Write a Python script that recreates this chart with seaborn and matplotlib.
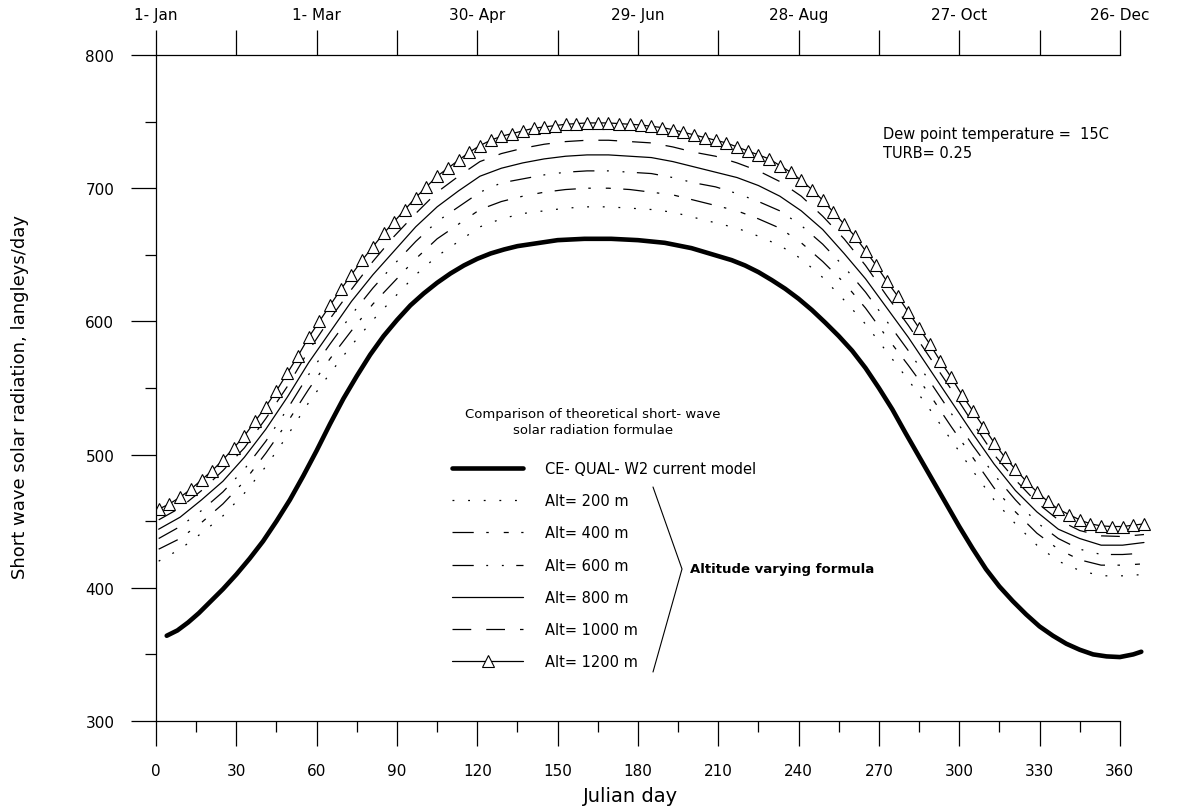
import numpy as np
import pandas as pd
import matplotlib
matplotlib.use("Agg")
import matplotlib.pyplot as plt
import seaborn as sns
from matplotlib.lines import Line2D
from matplotlib.ticker import MultipleLocator

# Julian day grids for the curves
days_fine = np.arange(1, 370, 4)      # 1200 m curve (one triangle per point)
days_alt = np.arange(1, 370, 8)       # other altitude curves
days_cequal = [4, 8, 12, 16, 20, 25, 30, 35, 40, 45, 50, 55, 60, 65, 70, 75, 80,
               85, 90, 95, 100, 105, 110, 115, 120, 125, 130, 135, 140, 145, 150,
               155, 160, 165, 170, 175, 180, 185, 190, 195, 200, 205, 210, 215,
               220, 225, 230, 235, 240, 245, 250, 255, 260, 265, 270, 275, 280,
               285, 290, 295, 300, 305, 310, 315, 320, 325, 330, 335, 340, 345,
               350, 355, 360, 365, 368]

cequal = [364, 368, 374, 381, 389, 399, 410, 422, 435, 450, 466, 484, 503, 523,
          542, 559, 575, 589, 601, 612, 621, 629, 636, 642, 647, 651, 654, 656.5,
          658, 659.5, 661, 661.5, 662, 662, 662, 661.5, 661, 660, 659, 657, 655,
          652, 649, 646, 642, 637, 631, 624.5, 617, 608.5, 599, 589, 578, 565,
          550, 534, 516, 498.5, 481, 463.5, 446, 429.5, 414, 401, 390, 380, 371,
          364, 358, 353.5, 350, 348.5, 348, 350, 352]

alt1200 = [
    459, 463, 468, 474, 481, 488, 496, 505, 514, 525,
    536, 548, 561, 574, 588, 600, 612, 624, 635, 646,
    656, 666, 675, 684, 693, 701, 709, 715, 721, 727,
    732, 736, 739, 741, 743, 745, 746, 747, 748, 748.5,
    749, 749, 749, 748.5, 748, 747.5, 746.5, 745.5, 744, 742,
    740, 738, 736, 734, 731, 728, 725, 722, 717, 712,
    706, 699, 691, 682, 673, 664, 653, 642, 630, 619,
    607, 595, 583, 570, 558, 545, 533, 521, 509, 498,
    489, 480, 472, 465, 459, 455, 451, 448, 446.5, 446,
    446, 447, 448]

alt1000 = [451, 460, 473, 488, 505, 527, 551, 578, 602, 624, 645, 664, 681, 697,
           709, 720, 726, 730, 733, 735, 736, 736, 735, 734, 731, 727, 724, 719,
           713, 705, 694, 679, 662, 642, 619, 597, 573, 549, 524, 500, 481, 464,
           451, 443, 439, 438.5, 440]
alt800 = [444, 453, 466, 480, 498, 519, 543, 569, 592, 615, 635, 653, 671, 686,
          698, 709, 715, 719, 722, 724, 725, 725, 724, 723, 720, 716, 712, 708,
          702, 694, 683, 669, 651, 632, 610, 588, 564, 540, 516, 493, 473, 457,
          444, 437, 432, 432, 434]
alt600 = [437, 446, 458, 472, 489, 510, 534, 560, 583, 605, 625, 643, 660, 675,
          686, 697, 704, 707, 710, 712, 713, 713, 712, 711, 708, 704, 701, 696,
          690, 683, 672, 658, 641, 622, 600, 578, 555, 531, 507, 485, 466, 449,
          437, 429, 425, 425, 426]
alt400 = [429, 437, 449, 463, 480, 501, 524, 549, 572, 593, 613, 630, 647, 662,
          673, 684, 690, 694, 697, 699, 700, 700, 699, 697, 695, 691, 687, 683,
          677, 670, 659, 645, 629, 610, 588, 567, 545, 521, 498, 475, 457, 441,
          429, 421, 417, 417, 418]
alt200 = [420, 429, 441, 454, 471, 491, 514, 539, 561, 582, 601, 618, 635, 649,
          660, 671, 677, 681, 683, 685, 686, 686, 685, 684, 682, 678, 674, 670,
          664, 657, 647, 633, 616, 598, 577, 556, 534, 511, 488, 466, 448, 432,
          420, 413, 409, 409, 410]

top_ticks = [0, 60, 120, 180, 240, 300, 360]
top_labels = ["1- Jan", "1- Mar", "30- Apr", "29- Jun", "28- Aug", "27- Oct", "26- Dec"]

W, H = 1180, 812


def fx(px):
    return px / W


def fy(py):
    return 1 - py / H


sns.set_style("ticks")
plt.rcParams["font.family"] = ["DejaVu Sans"]
for key in ("text.color", "axes.labelcolor", "xtick.color", "ytick.color",
            "axes.edgecolor"):
    plt.rcParams[key] = "black"

fig = plt.figure(figsize=(W / 100, H / 100), dpi=100)
ax = fig.add_axes([fx(156), fy(722), fx(1152) - fx(156), fy(56) - fy(722)])

sns.lineplot(x=days_cequal, y=cequal, color="black", lw=3.3,
             label="CE- QUAL- W2 current model", ax=ax)
styles = [
    ("Alt= 200 m", alt200, (0, (1.5, 11))),
    ("Alt= 400 m", alt400, (0, (17, 10, 2, 12, 4, 10))),
    ("Alt= 600 m", alt600, (0, (17, 10, 1.5, 11, 1.5, 10))),
    ("Alt= 800 m", alt800, "-"),
    ("Alt= 1000 m", alt1000, (0, (15, 12))),
]
for label, vals, ls in styles:
    sns.lineplot(x=days_alt, y=vals, color="black", lw=0.9, linestyle=ls,
                 label=label, ax=ax)
sns.lineplot(x=days_fine, y=alt1200, color="black", lw=0.9, marker="^",
             markersize=8, markerfacecolor="white", markeredgecolor="black",
             markeredgewidth=0.8, label="Alt= 1200 m", ax=ax)

ax.set_xlim(0, 372)
ax.set_ylim(300, 800)
ax.set_xticks(range(0, 361, 30))
ax.xaxis.set_minor_locator(MultipleLocator(15))
ax.yaxis.set_major_locator(MultipleLocator(100))
ax.yaxis.set_minor_locator(MultipleLocator(50))
ax.tick_params(axis="both", which="major", direction="out", length=18, width=0.9,
               labelsize=11, color="black")
ax.tick_params(axis="both", which="minor", direction="out", length=8, width=0.9)
ax.tick_params(axis="x", which="major", pad=12)
ax.tick_params(axis="y", which="major", pad=12)
ax.spines["right"].set_visible(False)
ax.spines["top"].set_visible(False)
ax.spines["bottom"].set_bounds(0, 360)
for s in ("left", "bottom"):
    ax.spines[s].set_linewidth(0.9)
ax.set_xlabel("")
ax.set_ylabel("")

# top date axis
ax2 = ax.twiny()
ax2.set_xlim(ax.get_xlim())
ax2.set_xticks(top_ticks, top_labels)
ax2.xaxis.set_minor_locator(MultipleLocator(30))
ax2.tick_params(axis="x", which="both", direction="out", length=18, width=0.9,
                labelsize=11, pad=6)
for s in ("left", "right", "bottom"):
    ax2.spines[s].set_visible(False)
ax2.spines["top"].set_bounds(0, 360)
ax2.spines["top"].set_linewidth(0.9)

# legend block
fig.text(fx(593), fy(423), "Comparison of theoretical short- wave\nsolar radiation formulae",
         ha="center", va="center", fontsize=9.5, multialignment="center",
         linespacing=1.3)
ax.legend(loc="upper left", bbox_to_anchor=(fx(452), fy(462)),
          bbox_transform=fig.transFigure, frameon=False, fontsize=10.5,
          borderpad=0, borderaxespad=0, handlelength=4.9, handletextpad=1.5,
          labelspacing=1.18, numpoints=1)

# bracket + label
fig.add_artist(Line2D([fx(653), fx(682), fx(653)], [fy(488), fy(570), fy(673)],
                      color="black", lw=0.8, transform=fig.transFigure))
fig.text(fx(690), fy(570), "Altitude varying formula", fontsize=9.5,
         fontweight="bold", va="center", ha="left")

fig.text(fx(883), fy(135), "Dew point temperature =  15C", fontsize=10.5, va="center")
fig.text(fx(883), fy(153), "TURB= 0.25", fontsize=10.5, va="center")

fig.text(fx(630), fy(797), "Julian day", fontsize=14, ha="center", va="center")
fig.text(fx(20), fy(397), "Short wave solar radiation, langleys/day", fontsize=13,
         rotation=90, ha="center", va="center")

fig.savefig("out.png", dpi=100)
